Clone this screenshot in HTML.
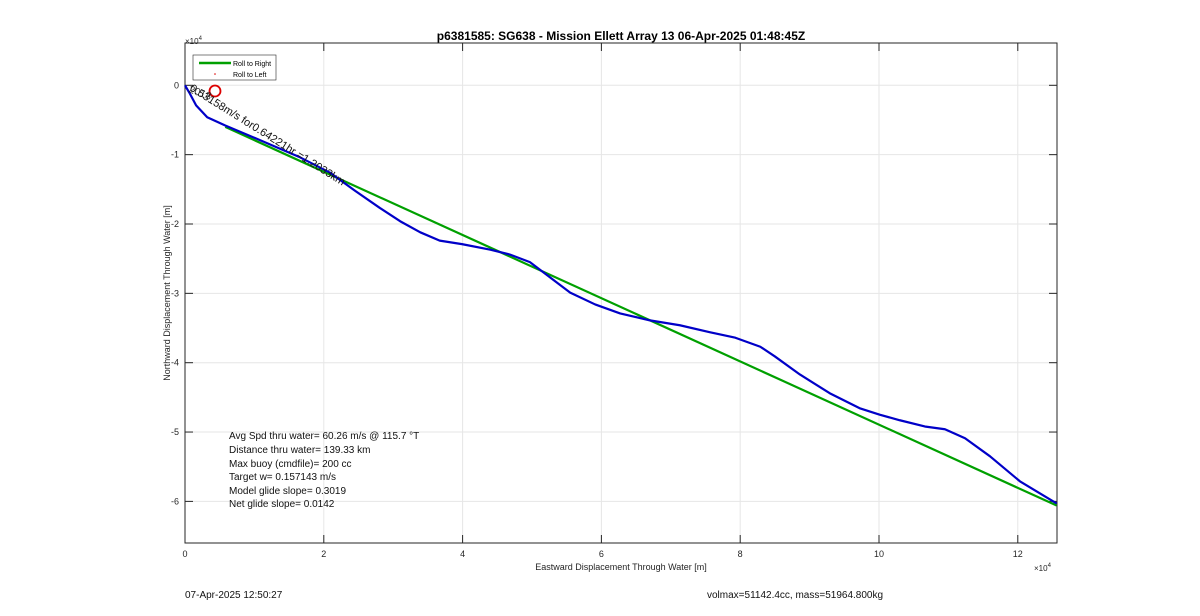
<!DOCTYPE html>
<html><head><meta charset="utf-8"><style>
body{margin:0;background:#fff;}
svg text{font-family:"Liberation Sans",sans-serif;}
</style></head><body>
<svg width="1200" height="611" xmlns="http://www.w3.org/2000/svg">
<g id="grid"></g>
<rect x="185" y="43" width="872" height="500" fill="none" stroke="#262626" stroke-width="1"/>
<g id="ticks"></g>
<g id="series"></g>
<text x="621" y="40" text-anchor="middle" font-size="12" font-weight="bold">p6381585: SG638 - Mission Ellett Array 13 06-Apr-2025 01:48:45Z</text>
<text x="185" y="44" font-size="8" fill="#262626">×10<tspan dy="-4" font-size="6">4</tspan></text>
<text x="1034" y="571" font-size="8" fill="#262626">×10<tspan dy="-4" font-size="6">4</tspan></text>
<text x="621" y="570" text-anchor="middle" font-size="9" fill="#262626">Eastward Displacement Through Water [m]</text>
<text transform="translate(170,293) rotate(-90)" text-anchor="middle" font-size="9" fill="#262626">Northward Displacement Through Water [m]</text>
<g>
<rect x="193" y="55" width="83" height="25" fill="#fff" stroke="#262626" stroke-width="0.6"/>
<line x1="199" y1="63" x2="231" y2="63" stroke="#00a000" stroke-width="2.5"/>
<text x="233" y="66" font-size="7">Roll to Right</text>
<circle cx="215" cy="74" r="0.8" fill="#d00"/>
<text x="233" y="77" font-size="7">Roll to Left</text>
</g>
<g id="series2"></g>
<circle cx="215" cy="91" r="5.5" fill="none" stroke="#d00" stroke-width="1.8"/>
<text transform="translate(189,90) rotate(32)" font-size="11" fill="#111">0.53158m/s for0.64221hr =1.2033km</text>
<text transform="translate(188,92) rotate(20)" font-size="10.5" fill="#111" opacity="0.8">2018</text>
<g font-size="10" fill="#111">
<text x="229" y="439">Avg Spd thru water= 60.26 m/s @ 115.7 °T</text>
<text x="229" y="453">Distance thru water= 139.33 km</text>
<text x="229" y="467">Max buoy (cmdfile)= 200 cc</text>
<text x="229" y="480">Target w= 0.157143 m/s</text>
<text x="229" y="494">Model glide slope= 0.3019</text>
<text x="229" y="507">Net glide slope= 0.0142</text>
</g>
<text x="185" y="598" font-size="10" fill="#111">07-Apr-2025 12:50:27</text>
<text x="707" y="598" font-size="10" fill="#111">volmax=51142.4cc, mass=51964.800kg</text>
</svg>
<script>
const xTicks=[0,2,4,6,8,10,12];
const yTicks=[0,-1,-2,-3,-4,-5,-6];
const blueX=[0,0.07,0.16,0.32,0.58,1.08,1.66,2.09,2.45,2.81,3.1,3.39,3.67,3.99,4.4,4.68,4.97,5.26,5.55,5.91,6.27,6.7,7.13,7.56,7.93,8.29,8.5,8.86,9.29,9.73,10.01,10.3,10.66,10.95,11.24,11.6,12.03,12.56];
const blueY=[0,-0.12,-0.29,-0.46,-0.58,-0.79,-1.04,-1.26,-1.52,-1.77,-1.96,-2.12,-2.24,-2.29,-2.37,-2.44,-2.55,-2.77,-2.99,-3.16,-3.29,-3.39,-3.46,-3.56,-3.64,-3.77,-3.91,-4.17,-4.44,-4.66,-4.75,-4.83,-4.92,-4.96,-5.09,-5.35,-5.71,-6.03];
const greenX=[0.58,12.56];
const greenY=[-0.6,-6.06];
const NS='http://www.w3.org/2000/svg';
const X0=185,X1=1057,Y0=43,Y1=543,XMIN=0,XMAX=12.565,YMIN=-6.6,YMAX=0.61;
function sx(v){return X0+(v-XMIN)/(XMAX-XMIN)*(X1-X0);}
function sy(v){return Y1-(v-YMIN)/(YMAX-YMIN)*(Y1-Y0);}
function mk(tag,attrs,parent){const e=document.createElementNS(NS,tag);for(const k in attrs)e.setAttribute(k,attrs[k]);parent.appendChild(e);return e;}
const grid=document.getElementById('grid'),ticks=document.getElementById('ticks'),series=document.getElementById('series');
xTicks.forEach(t=>{const x=sx(t);
 const g=mk('line',{x1:x,x2:x,y1:Y0,y2:Y1,stroke:'#e6e6e6','stroke-width':1},grid);
 
 
 mk('line',{x1:x,x2:x,y1:Y1,y2:Y1-8,stroke:'#262626'},ticks);
 mk('line',{x1:x,x2:x,y1:Y0,y2:Y0+8,stroke:'#262626'},ticks);
 const tx=mk('text',{x:x,y:Y1+14,'text-anchor':'middle','font-size':9,fill:'#262626'},ticks);
 tx.textContent=t;
 
 });
yTicks.forEach(t=>{const y=sy(t);
 const g=mk('line',{x1:X0,x2:X1,y1:y,y2:y,stroke:'#e6e6e6','stroke-width':1},grid);
 
 
 mk('line',{x1:X0,x2:X0+8,y1:y,y2:y,stroke:'#262626'},ticks);
 mk('line',{x1:X1,x2:X1-8,y1:y,y2:y,stroke:'#262626'},ticks);
 const tx=mk('text',{x:X0-6,y:y+3,'text-anchor':'end','font-size':9,fill:'#262626'},ticks);
 tx.textContent=t;
 
 });
const gp=mk('polyline',{points:greenX.map((v,i)=>sx(v)+','+sy(greenY[i])).join(' '),fill:'none',stroke:'#00a000','stroke-width':2.2},series);


const bp=mk('polyline',{points:blueX.map((v,i)=>sx(v)+','+sy(blueY[i])).join(' '),fill:'none',stroke:'#0000c8','stroke-width':2.2,'stroke-linejoin':'round'},series);


</script>
</body></html>
